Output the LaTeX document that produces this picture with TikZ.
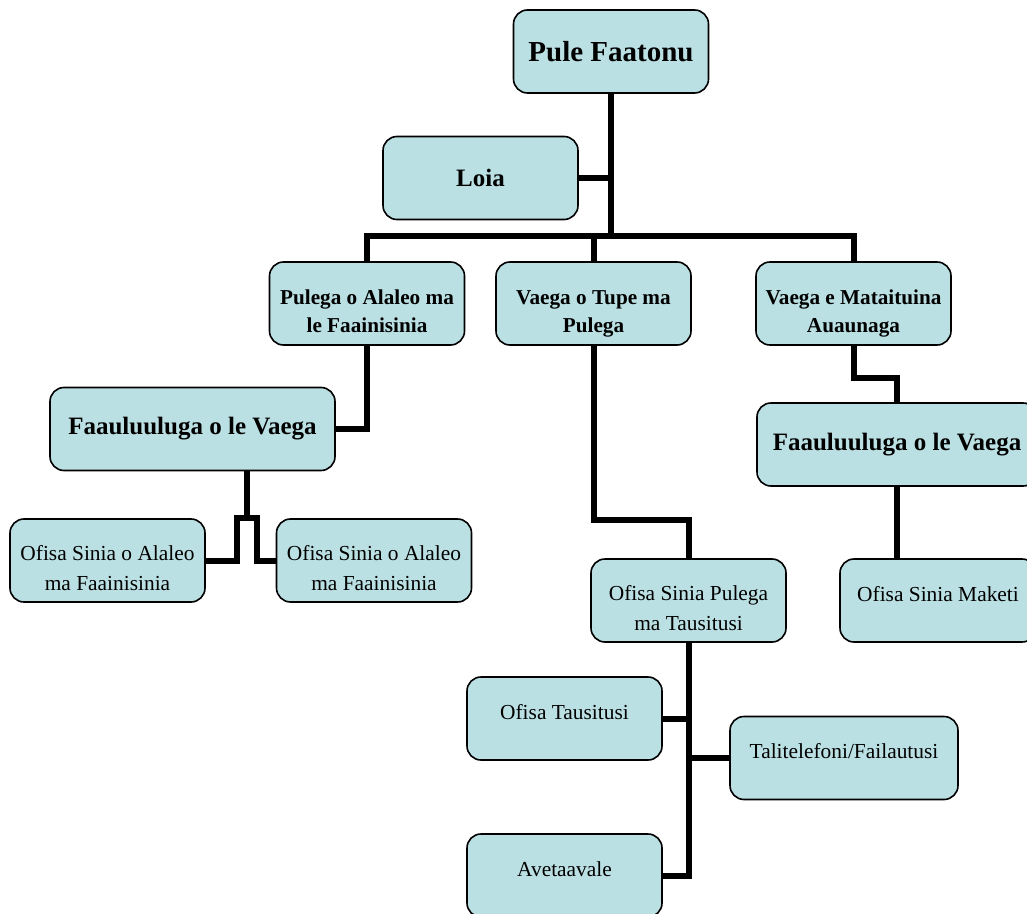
\documentclass[tikz,border=0pt]{standalone}
\usepackage{fontspec}
\setmainfont{Liberation Serif}
\usepackage{xcolor}
\definecolor{boxfill}{RGB}{187,224,227}

\begin{document}
\begin{tikzpicture}[x=0.5pt, y=-0.5pt,
    unit/.style={draw, line width=0.8pt, rounded corners=7pt, fill=boxfill, minimum width=97.5pt, minimum height=41.5pt, align=center, inner sep=2pt},
    headbox/.style={unit, font=\fontsize{14.5}{17}\selectfont\bfseries},
    midbox/.style={unit, font=\fontsize{12.5}{15}\selectfont\bfseries},
    deptbox/.style={unit, text height=29.2pt, text depth=0pt, font=\fontsize{10.6}{14}\selectfont\bfseries},
    staffbox/.style={unit, text height=6pt, text depth=5.1pt, font=\fontsize{10.7}{15}\selectfont},
    staffpair/.style={unit, text height=30.4pt, text depth=0pt, font=\fontsize{10.7}{15}\selectfont},
    link/.style={line width=3pt}]
    \useasboundingbox (0,0) rectangle (1027,914);

    % Top level
    \node[headbox] (faatonu) at (611,51.5) {Pule Faatonu};
    \node[midbox] (loia) at (480.5,178) {Loia};

    % Departments
    \node[deptbox] (alaleo) at (367,303.5) {Pulega o Alaleo ma\\le Faainisinia};
    \node[deptbox] (tupe) at (593.5,303.5) {Vaega o Tupe ma\\Pulega};
    \node[deptbox] (auaunaga) at (853.5,303.5) {Vaega e Mataituina\\Auaunaga};

    % Heads of division
    \node[midbox, minimum width=142.5pt] (faauluL) at (192.5,429) {Faauluuluga o le Vaega};
    \node[midbox, minimum width=140pt] (faauluR) at (897,444.5) {Faauluuluga o le Vaega};

    % Officers
    \node[staffpair] (alaleoA) at (107.5,560.5) {Ofisa Sinia o Alaleo\\ma Faainisinia};
    \node[staffpair] (alaleoB) at (374,560.5) {Ofisa Sinia o Alaleo\\ma Faainisinia};
    \node[staffpair] (pulegaT) at (688.5,600.5) {Ofisa Sinia Pulega\\ma Tausitusi};
    \node[staffbox, minimum width=98pt] (maketi) at (938,600.5) {Ofisa Sinia Maketi};
    \node[staffbox] (tausitusi) at (564.5,718.5) {Ofisa Tausitusi};
    \node[staffbox, minimum width=114pt] (tali) at (844,758) {Talitelefoni/Failautusi};
    \node[staffbox] (avetaavale) at (564.5,875.5) {Avetaavale};

    % Lines from the top
    \coordinate (bus) at (613,236);
    \draw[link] (faatonu.south) -- (faatonu.south |- bus);
    \draw[link] (loia.east) -- (loia.east -| faatonu.south);
    \draw[link] (alaleo.north) |- (bus) -| (auaunaga.north);
    \draw[link] (tupe.north) -- (tupe.north |- bus);

    % Left branch
    \draw[link] (alaleo.south) |- (faauluL.east);
    \coordinate (splitL) at (247,518);
    \draw[link] (faauluL.south -| splitL) -- (splitL);
    \draw[link] (alaleoA.east) -| ([xshift=-5pt]splitL) -- ([xshift=5pt]splitL) |- (alaleoB.west);

    % Middle branch
    \coordinate (stepT) at (640,520);
    \draw[link] (tupe.south) |- (stepT) -| (pulegaT.north);
    \draw[link] (pulegaT.south) |- (avetaavale.east);
    \draw[link] (tausitusi.east) -- (tausitusi.east -| pulegaT.south);
    \draw[link] (tali.west) -- (tali.west -| pulegaT.south);

    % Right branch
    \coordinate (stepA) at (875,378);
    \draw[link] (auaunaga.south) |- (stepA) -| (faauluR.north);
    \draw[link] (faauluR.south) -- (faauluR.south |- maketi.north);
\end{tikzpicture}
\end{document}
